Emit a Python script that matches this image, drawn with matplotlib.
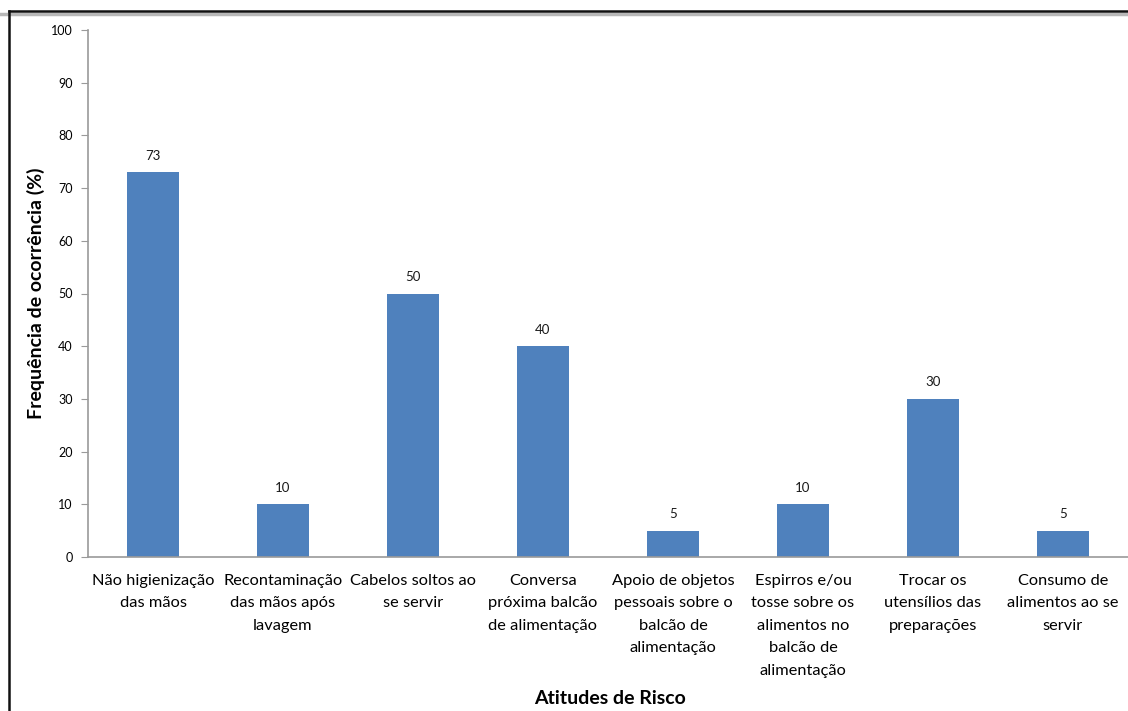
import matplotlib.pyplot as plt
from matplotlib.lines import Line2D

# riscos observados no balcão de distribuição
atitudes = [
    "Não higienização\ndas mãos",
    "Recontaminação\ndas mãos após\nlavagem",
    "Cabelos soltos ao\nse servir",
    "Conversa\npróxima balcão\nde alimentação",
    "Apoio de objetos\npessoais sobre o\nbalcão de\nalimentação",
    "Espirros e/ou\ntosse sobre os\nalimentos no\nbalcão de\nalimentação",
    "Trocar os\nutensílios das\npreparações",
    "Consumo de\nalimentos ao se\nservir",
]
frequencia = [73, 10, 50, 40, 5, 10, 30, 5]

plt.rcParams['font.family'] = ['Lato', 'DejaVu Sans']

fig = plt.figure(figsize=(11.28, 7.11), dpi=100)
ax = fig.add_axes([88 / 1128, 154 / 711, 1 - 88 / 1128, 527 / 711])

x = list(range(len(atitudes)))
barras = ax.bar(x, frequencia, width=0.4, color='#4F81BD')
for xi, v in zip(x, frequencia):
    ax.text(xi, v + 2, str(v), ha='center', va='bottom', fontsize=9.5, color='#1a1a1a')

ax.set_xlim(-0.5, len(atitudes) - 0.5)
ax.set_ylim(0, 100)
ax.set_yticks(range(0, 101, 10))
ax.set_xticks(x)
ax.set_xticklabels(atitudes, fontsize=11.8, linespacing=1.78)
ax.tick_params(axis='x', length=0, pad=12)
ax.tick_params(axis='y', length=5, color='#9a9a9a', labelsize=9, pad=6)

for lado in ['top', 'right']:
    ax.spines[lado].set_visible(False)
for lado in ['left', 'bottom']:
    ax.spines[lado].set_color('#9a9a9a')
    ax.spines[lado].set_linewidth(1.2)

ax.set_ylabel('Frequência de ocorrência (%)', fontsize=14, fontweight='bold', labelpad=4)
fig.text(610 / 1128, 1 - 698 / 711, 'Atitudes de Risco', ha='center', va='center',
         fontsize=14, fontweight='bold')

# moldura da figura (linha superior com sombra e linha esquerda)
fig.add_artist(Line2D([0, 1], [1 - 13.5 / 711, 1 - 13.5 / 711], color='#b8b8b8', linewidth=2.5))
fig.add_artist(Line2D([9 / 1128, 1], [1 - 11 / 711, 1 - 11 / 711], color='#111111', linewidth=1.8))
fig.add_artist(Line2D([9 / 1128, 9 / 1128], [0, 1 - 11 / 711], color='#111111', linewidth=1.8))

fig.savefig('out.png', dpi=100)
